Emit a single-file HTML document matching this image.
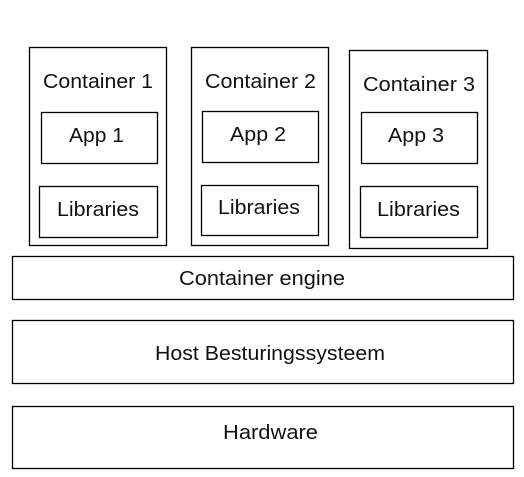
<!DOCTYPE html>
<html><head><meta charset="utf-8"><style>
html,body{margin:0;padding:0;background:#fff;width:524px;height:477px;overflow:hidden}
svg{display:block}
text{font-family:"Liberation Sans",sans-serif;font-size:20px;fill:#111}
</style></head><body>
<svg width="524" height="477" viewBox="0 0 524 477" xmlns="http://www.w3.org/2000/svg">
<g fill="none" stroke="#000" stroke-width="1.3">
<rect x="29.5" y="47.5" width="137" height="198"/>
<rect x="41.5" y="112.5" width="116" height="51"/>
<rect x="39.5" y="186.5" width="118" height="51"/>
<rect x="191.5" y="47.5" width="137" height="198"/>
<rect x="202.5" y="111.5" width="116" height="51"/>
<rect x="201.5" y="185.5" width="117" height="50"/>
<rect x="349.5" y="50.5" width="138" height="198"/>
<rect x="361.5" y="112.5" width="116" height="51"/>
<rect x="360.5" y="186.5" width="117" height="51"/>
<rect x="12.5" y="256.5" width="501" height="43"/>
<rect x="12.5" y="320.5" width="501" height="63"/>
<rect x="12.5" y="406.5" width="501" height="62"/>
</g>
<text x="43" y="88" textLength="110" lengthAdjust="spacingAndGlyphs">Container 1</text>
<text x="69" y="142" textLength="55" lengthAdjust="spacingAndGlyphs">App 1</text>
<text x="57" y="216" textLength="82" lengthAdjust="spacingAndGlyphs">Libraries</text>
<text x="205" y="88" textLength="111" lengthAdjust="spacingAndGlyphs">Container 2</text>
<text x="230" y="141" textLength="56" lengthAdjust="spacingAndGlyphs">App 2</text>
<text x="218" y="214" textLength="82" lengthAdjust="spacingAndGlyphs">Libraries</text>
<text x="363" y="91" textLength="112" lengthAdjust="spacingAndGlyphs">Container 3</text>
<text x="388" y="142" textLength="56" lengthAdjust="spacingAndGlyphs">App 3</text>
<text x="377" y="216" textLength="83" lengthAdjust="spacingAndGlyphs">Libraries</text>
<text x="179" y="285" textLength="166" lengthAdjust="spacingAndGlyphs">Container engine</text>
<text x="155" y="360" textLength="230" lengthAdjust="spacingAndGlyphs">Host Besturingssysteem</text>
<text x="223" y="439" textLength="95" lengthAdjust="spacingAndGlyphs">Hardware</text>
</svg>
</body></html>
